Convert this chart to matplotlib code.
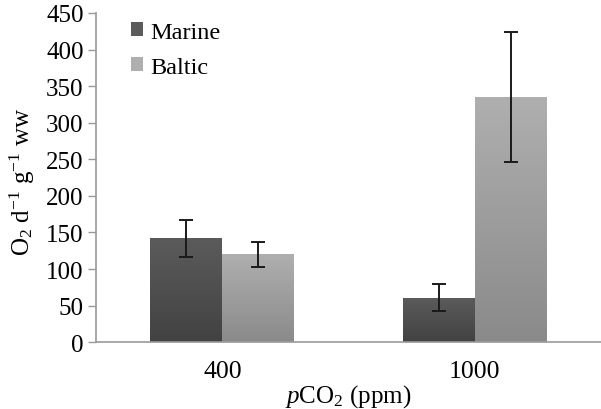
import numpy as np
import matplotlib
matplotlib.use('Agg')
import matplotlib.pyplot as plt
from matplotlib.colors import LinearSegmentedColormap

# O2 consumption per pCO2 treatment
groups = ['400', '1000']
series = ['Marine', 'Baltic']
marine = [142, 61]
marine_err = [25, 18]
baltic = [120, 335]
baltic_err = [17, 89]

plt.rcParams['font.family'] = ['Liberation Serif', 'DejaVu Serif']
plt.rcParams['mathtext.fontset'] = 'custom'
plt.rcParams['mathtext.rm'] = 'Liberation Serif'
plt.rcParams['mathtext.it'] = 'Liberation Serif:italic'

fig = plt.figure(figsize=(6.01, 4.10), dpi=100)
ax = fig.add_axes([0.16, 0.163, 0.84, 0.803])

x = np.arange(len(groups))
w = 0.285
cols = {'Marine': ('#5b5b5b', '#424242'), 'Baltic': ('#afafaf', '#8a8a8a')}

def gradient_bars(bars, top, bottom):
    cmap = LinearSegmentedColormap.from_list('g', [bottom, top])
    grad = np.linspace(0, 1, 256).reshape(-1, 1)
    for b in bars:
        x0, y0 = b.get_x(), b.get_y()
        im = ax.imshow(grad, extent=[x0, x0 + b.get_width(), y0, y0 + b.get_height()],
                       origin='lower', aspect='auto', cmap=cmap, zorder=2)
        im.set_clip_path(b)

b1 = ax.bar(x - w / 2, marine, w, color=cols['Marine'][0], label='Marine', zorder=1)
b2 = ax.bar(x + w / 2, baltic, w, color=cols['Baltic'][0], label='Baltic', zorder=1)
gradient_bars(b1, *cols['Marine'])
gradient_bars(b2, *cols['Baltic'])

ax.errorbar(x - w / 2, marine, yerr=marine_err, fmt='none', ecolor='#1a1a1a',
            elinewidth=1.4, capsize=5, capthick=1.4, zorder=3)
ax.errorbar(x + w / 2, baltic, yerr=baltic_err, fmt='none', ecolor='#1a1a1a',
            elinewidth=1.4, capsize=5, capthick=1.4, zorder=3)

ax.set_xlim(-0.5, 1.5)
ax.set_ylim(0, 450)
ax.set_yticks(range(0, 451, 50))
ax.set_xticks(x)
ax.set_xticklabels(groups)
ax.tick_params(axis='x', length=0, pad=13, labelsize=18.5)
ax.tick_params(axis='y', length=6, width=1, color='#999999', labelsize=18, pad=3)
for s in ['top', 'right']:
    ax.spines[s].set_visible(False)
for s in ['left', 'bottom']:
    ax.spines[s].set_color('#999999')
    ax.spines[s].set_linewidth(1.2)

ax.set_ylabel(r'O$_2$ d$^{-1}$ g$^{-1}$ ww', fontsize=18)
ax.yaxis.set_label_coords(-0.117, 0.49)
ax.set_xlabel(r'$p$CO$_2$ (ppm)', fontsize=18, labelpad=0)

ax.legend(loc='upper left', bbox_to_anchor=(0.04, 1.018), frameon=False, fontsize=17.5,
          handlelength=0.5, handleheight=0.5, handletextpad=0.3, labelspacing=0.58,
          borderaxespad=0.2)

fig.savefig('out.png', dpi=100)
